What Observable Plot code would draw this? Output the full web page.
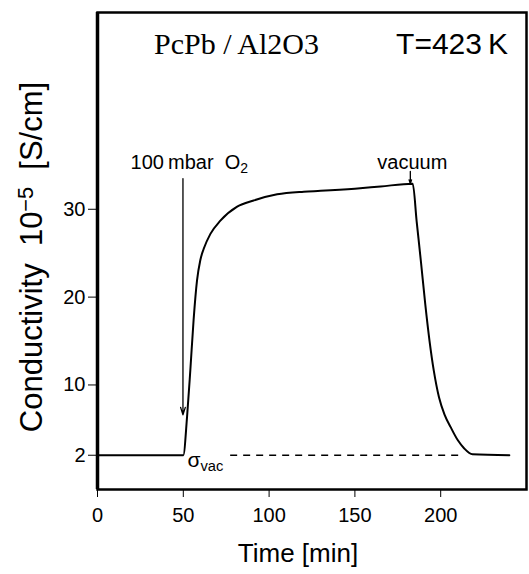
<!DOCTYPE html>
<html><head><meta charset="utf-8">
<script src="https://cdn.jsdelivr.net/npm/d3@7"></script>
<script src="https://cdn.jsdelivr.net/npm/@observablehq/plot@0.6"></script>
<style>body{margin:0;background:#fff}</style>
</head><body><div id="chart"></div>
<script>
// Curve data
const time = [0, 50, 52.2, 54.1, 56.0, 58.0, 59.9, 61.9, 65.8, 71.6, 81.4, 91.0, 104.7, 120.2, 130.0, 150, 165, 183.7, 186, 188.5, 191, 193.5, 196, 199, 202.3, 205.8, 210, 213.6, 218.5, 240];
const conductivity = [2, 2, 6.4, 11.7, 17.4, 21.9, 24.2, 25.5, 27.2, 28.7, 30.3, 31.0, 31.7, 32.0, 32.1, 32.35, 32.6, 32.9, 28.6, 24.0, 19.2, 15.0, 11.6, 8.6, 6.6, 5.2, 3.7, 2.8, 2.1, 2.0];

// Ticks
const xTicks = [0, 50, 100, 150, 200];
const yTicks = [2, 10, 20, 30];

// Reference level sigma_vac (dashed)
const sigmaVac = 2;
const dashFrom = 77.6, dashTo = 212;

// Annotations
const annText = ["100\u2009mbar\u00a0\u00a0O_2", "vacuum", "σ_vac"];
const annTime = [53.5, 183.5, 52.4];
const annValue = [35.35, 35.35, 1.48];
const annAnchor = ["middle", "middle", "start"];
const annSize = [20, 20, 21];

const arrowTime = [49.8, 182.3];
const arrowFrom = [33.5, 34.3];
const arrowTo = [6.6, 32.9];

const titleText = ["PcPb / Al2O3", "T=423\u2009K"];
const titleTime = [81, 206.6];
const titleValue = [48.8, 48.8];
const titleFont = ["Liberation Serif, Times New Roman, serif", "Liberation Sans, Arial, sans-serif"];

const xLabel = "Time [min]";
const yLabel = "Conductivity\u00a0\u00a010^-5\u00a0\u00a0[S/cm]";

const rows = time.map((t, i) => ({t, c: conductivity[i]}));
const anns = annText.map((s, i) => ({s, t: annTime[i], v: annValue[i], a: annAnchor[i], f: annSize[i]}));
const arrows = arrowTime.map((t, i) => ({t, y1: arrowFrom[i], y2: arrowTo[i]}));
const titles = titleText.map((s, i) => ({s, t: titleTime[i], v: titleValue[i], font: titleFont[i]}));

const chart = Plot.plot({
  width: 529, height: 574,
  marginLeft: 97, marginRight: 3, marginTop: 12, marginBottom: 85,
  x: {domain: [0, 250], ticks: xTicks, tickSize: 8, tickPadding: 10, label: null},
  y: {domain: [-1.9, 52.4], ticks: yTicks, tickSize: 9, tickPadding: 3, label: null},
  style: {fontFamily: "Liberation Sans, Arial, sans-serif", fontSize: "20px", color: "#000", background: "#fff"},
  marks: [
    Plot.frame({strokeWidth: 2.5}),
    Plot.ruleX([0], {strokeWidth: 3.5}),
    Plot.ruleY([sigmaVac], {x1: dashFrom, x2: dashTo, strokeDasharray: "7,6", strokeWidth: 1.5}),
    Plot.line(rows, {x: "t", y: "c", strokeWidth: 2, curve: "monotone-x"}),
    Plot.arrow(arrows, {x1: "t", x2: "t", y1: "y1", y2: "y2", strokeWidth: 1.3, headLength: 9, headAngle: 35}),
    ...anns.map(d => Plot.text([d], {x: "t", y: "v", text: "s", textAnchor: d.a, fontSize: d.f})),
    ...titles.map(d => Plot.text([d], {x: "t", y: "v", text: "s", fontSize: 30, fontFamily: d.font})),
    Plot.text([xLabel], {frameAnchor: "bottom", textAnchor: "middle", lineAnchor: "middle", dy: 64, dx: -14, fontSize: 26}),
    Plot.text([yLabel], {frameAnchor: "left", textAnchor: "middle", lineAnchor: "middle", dx: -65, dy: 6, rotate: -90, fontSize: 31})
  ]
});

// rich text: _x subscript, ^x superscript
d3.select(chart).selectAll("text").filter(function() { return /[_^]/.test(this.textContent); }).each(function() {
  const el = d3.select(this);
  const s = el.text();
  el.text(null);
  const re = /([_^])([^\s\u00a0]+)/g;
  let last = 0, m, pending = 0;
  const add = (txt, dy, small) => {
    const t = el.append("tspan").text(txt);
    if (dy) t.attr("dy", dy + "em");
    if (small) t.attr("font-size", "0.7em");
  };
  while ((m = re.exec(s))) {
    if (m.index > last) { add(s.slice(last, m.index), pending, false); pending = 0; }
    const shift = m[1] === "_" ? 0.3 : -0.45;
    add(m[2].replace("-", "\u2212"), shift + pending, true);
    pending = -shift * 0.7;
    last = m.index + m[0].length;
  }
  if (last < s.length) add(s.slice(last), pending, false);
});

document.getElementById("chart").appendChild(chart);
</script>
</body></html>
